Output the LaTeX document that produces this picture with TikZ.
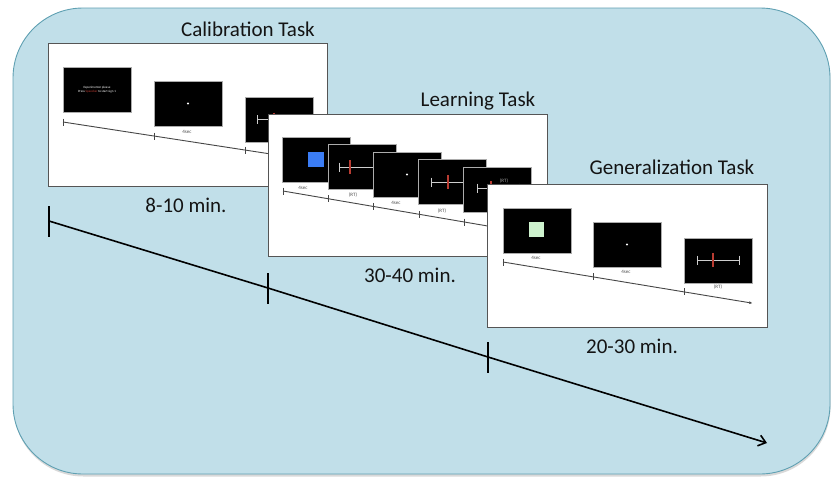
\documentclass[tikz,border=0pt]{standalone}
\usepackage{fontspec}
\setmainfont{Carlito}
\usetikzlibrary{arrows.meta}
\definecolor{bgfill}{RGB}{193,223,233}
\definecolor{bgline}{RGB}{95,160,178}
\definecolor{panelline}{RGB}{85,85,85}
\definecolor{cueblue}{RGB}{59,125,245}
\definecolor{cuegreen}{RGB}{206,242,206}
\definecolor{tickred}{RGB}{185,60,50}
\definecolor{barwhite}{RGB}{205,205,205}
\newcommand\mybar[3]{%
  \draw[barwhite,line width=1pt] (#1,#2) -- (#1+42,#2);
  \draw[barwhite,line width=1pt] (#1,#2-4.5) -- (#1,#2+4.5);
  \draw[barwhite,line width=1pt] (#1+42,#2-4.5) -- (#1+42,#2+4.5);
  \draw[tickred,line width=1.3pt] (#3,#2-7) -- (#3,#2+7);}
\begin{document}
\begin{tikzpicture}[x=1pt,y=-1pt,
  panel/.style={draw=panelline,fill=white,line width=1pt,anchor=north west,inner sep=0,outer sep=0},
  screen/.style={draw=gray!65,fill=black,line width=0.6pt,anchor=north west,inner sep=0,outer sep=0,minimum width=68,minimum height=45},
  ttl/.style={font=\fontsize{21}{25}\selectfont,text=black!92,anchor=base,inner sep=0},
  tinylbl/.style={font=\fontsize{5}{6}\selectfont,text=black!70,inner sep=0},
  tline/.style={draw=gray!55!black,line width=0.9pt},
  tick/.style={draw=gray!55!black,line width=0.7pt},
  dotw/.style={fill=white,draw=none,circle,inner sep=0,minimum size=2.2},
  mainline/.style={draw=black,line width=1.6pt}
]
\useasboundingbox (0,0) rectangle (834,477);
% background
\fill[gray!30,rounded corners=70] (13.5,10.5) rectangle (830.5,476.5);
\draw[bgline,fill=bgfill,line width=0.9pt,rounded corners=70] (13,8) rectangle (830,474);

% main time arrow
\coordinate (m0) at (49,221);
\coordinate (m1) at (268,288);
\coordinate (m2) at (488,357);
\coordinate (m3) at (767,443);
\draw[mainline,-{Straight Barb[length=7pt,width=11pt]}] (m0) -- (m1) -- (m2) -- (m3);
\foreach \p in {m0,m1,m2}{\draw[mainline] ([yshift=-15.5pt]\p) -- ([yshift=15.5pt]\p);}

% ---------------- Calibration task
\node[ttl] (caltitle) at (248,36) {Calibration Task};
\node[panel,minimum width=279,minimum height=143] (cal) at (48,43) {};
\coordinate (ca) at (63,122);
\coordinate (cb) at (300,158.5);
\draw[tline] (ca) -- (cb);
\foreach \x/\y in {63/122,154/136,245/150}{\draw[tick] (\x,\y-3.5) -- (\x,\y+3.5);}
\node[screen] (cs1) at (63,67) {};
\node[font=\fontsize{3.2}{3.9}\selectfont,text=white,align=center,inner sep=0] (cs1txt) at (97,90) {Experimenter please\\Press \textcolor{tickred}{Spacebar} to start sign 1};
\node[screen] (cs2) at (154,81) {};
\node[dotw] (cs2dot) at (cs2.center) {};
\node[tinylbl] (cl1) at (187,132) {4sec};
\node[screen] (cs3) at (245,97) {};
\mybar{257}{119.5}{274}

% ---------------- Learning task
\node[ttl] (lrntitle) at (478,106) {Learning Task};
\node[panel,minimum width=279,minimum height=142] (lrn) at (268,114) {};
\coordinate (la) at (283,191);
\coordinate (lb) at (500,228.1);
\draw[tline] (la) -- (lb);
\foreach \x/\y in {283/191,328/198.7,373/206.4,419/214.3,464/222}{\draw[tick] (\x,\y-3.5) -- (\x,\y+3.5);}
\node[screen] (ls1) at (282,137) {};
\fill[cueblue] (308,152) rectangle (324,167);
\node[screen] (ls2) at (328,144) {};
\mybar{339}{167}{350}
\node[screen] (ls3) at (373,152) {};
\node[dotw] (ls3dot) at (ls3.center) {};
\node[screen] (ls4) at (418,159) {};
\mybar{431}{182}{448}
\node[screen] (ls5) at (463,167) {};
\mybar{477}{188}{491}
\node[tinylbl,text=gray!70] (ls5lbl) at (504,181) {(RT)};
\node[tinylbl] (ll1) at (303,188) {4sec};
\node[tinylbl] (ll2) at (353,195) {(RT)};
\node[tinylbl] (ll3) at (396,203) {4sec};
\node[tinylbl] (ll4) at (442,211) {(RT)};
\node[ttl] (lrntime) at (410,282) {30-40 min.};

% ---------------- Generalization task
\node[ttl] (gentitle) at (672,174) {Generalization Task};
\node[panel,minimum width=280,minimum height=143] (gen) at (487,184) {};
\coordinate (ga) at (503,262);
\coordinate (gb) at (752,303.1);
\draw[tline,-{Stealth[length=3pt,width=3pt]}] (ga) -- (gb);
\foreach \x/\y in {503/262,593/276.9,684/291.9}{\draw[tick] (\x,\y-3.5) -- (\x,\y+3.5);}
\node[screen] (gs1) at (503,208) {};
\fill[cuegreen] (529,222) rectangle (544,237);
\node[screen] (gs2) at (593,222) {};
\node[dotw] (gs2dot) at (gs2.center) {};
\node[screen] (gs3) at (684,238) {};
\mybar{697}{260}{713}
\node[tinylbl] (gl1) at (536,258) {4sec};
\node[tinylbl] (gl2) at (626,272) {4sec};
\node[tinylbl] (gl3) at (718,287) {(RT)};
\node[ttl] (gentime) at (632,353) {20-30 min.};

% calibration time label
\node[ttl] (caltime) at (186,212) {8-10 min.};
\end{tikzpicture}
\end{document}
